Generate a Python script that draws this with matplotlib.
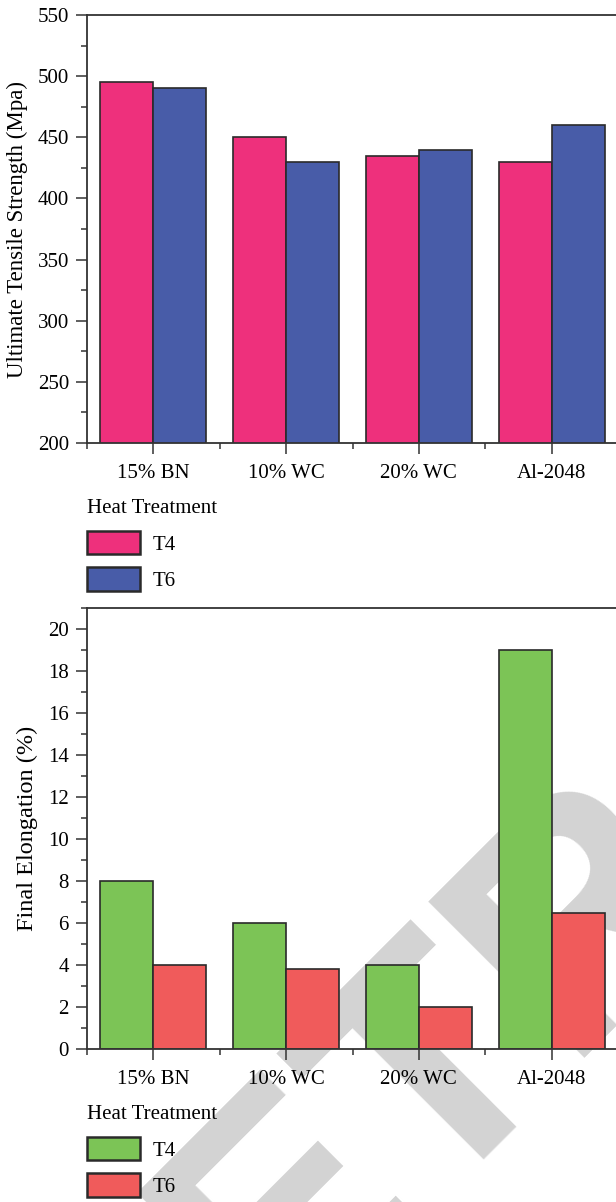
import matplotlib
matplotlib.use("Agg")
import matplotlib.pyplot as plt
import numpy as np
from matplotlib.ticker import MultipleLocator, FixedLocator, NullFormatter

plt.rcParams['font.family'] = ['Liberation Serif', 'DejaVu Serif']

# ---- data ----
materials = ["15% BN", "10% WC", "20% WC", "Al-2048"]
treatments = ["T4", "T6"]
uts_t4 = [495, 450, 435, 430]
uts_t6 = [490, 430, 440, 460]
elong_t4 = [8, 6, 4, 19]
elong_t6 = [4, 3.8, 2, 6.5]

W, H = 616, 1202
fig = plt.figure(figsize=(W / 100, H / 100), dpi=100)

# gray watermark behind everything
fig.text(752 / W, 1 - 752 / H, "RETRACTED", rotation=45, fontsize=232, color="#d3d3d3",
         family="Liberation Sans", weight="bold", ha="center", va="center", zorder=-5)

edge = "#2a2a2a"
x = np.arange(1, len(materials) + 1)
bw = 0.4


def draw_panel(ax, t4, t6, colors, ylim, major, minor, ylabel, ylabel_size, leg_drop):
    ax.set_facecolor("none")
    ax.bar(x - bw / 2, t4, bw, color=colors[0], edgecolor=edge, linewidth=1.2, label=treatments[0])
    ax.bar(x + bw / 2, t6, bw, color=colors[1], edgecolor=edge, linewidth=1.2, label=treatments[1])
    ax.set_xlim(0.5, 4.5)
    ax.set_ylim(*ylim)
    ax.yaxis.set_major_locator(MultipleLocator(major))
    ax.yaxis.set_minor_locator(MultipleLocator(minor))
    ax.xaxis.set_major_locator(FixedLocator(x))
    ax.xaxis.set_minor_locator(FixedLocator(np.arange(0.5, 4.6, 1.0)))
    ax.xaxis.set_minor_formatter(NullFormatter())
    ax.set_xticklabels(materials)
    ax.tick_params(which="major", length=8, width=1.1, color="#333333", labelsize=15, pad=5)
    ax.tick_params(which="minor", length=4, width=1.1, color="#333333")
    ax.tick_params(axis="x", which="major", pad=7)
    for s in ax.spines.values():
        s.set_color("#333333")
        s.set_linewidth(1.3)
    ax.set_ylabel(ylabel, fontsize=ylabel_size, labelpad=7)
    h = ax.get_position().height * H
    leg = ax.legend(title="Heat Treatment", loc="upper left", bbox_to_anchor=(0.0, -leg_drop / h),
                    frameon=False, fontsize=15, title_fontsize=15, alignment="left",
                    handlelength=2.55, handleheight=1.35, handletextpad=0.62,
                    labelspacing=0.62, borderpad=0, borderaxespad=0)
    for p in leg.get_patches():
        p.set_edgecolor(edge)
        p.set_linewidth(1.8)
    return ax


ax1 = fig.add_axes([87 / W, (H - 443) / H, 531 / W, 428 / H])
draw_panel(ax1, uts_t4, uts_t6, ["#ee307c", "#485ca8"], (200, 550), 50, 25,
           "Ultimate Tensile Strength (Mpa)", 16.5, 56)

ax2 = fig.add_axes([87 / W, (H - 1049) / H, 531 / W, 441 / H])
draw_panel(ax2, elong_t4, elong_t6, ["#7cc456", "#f05b5b"], (0, 21), 2, 1,
           "Final Elongation (%)", 17.5, 56)

fig.savefig("out.png", dpi=100)
